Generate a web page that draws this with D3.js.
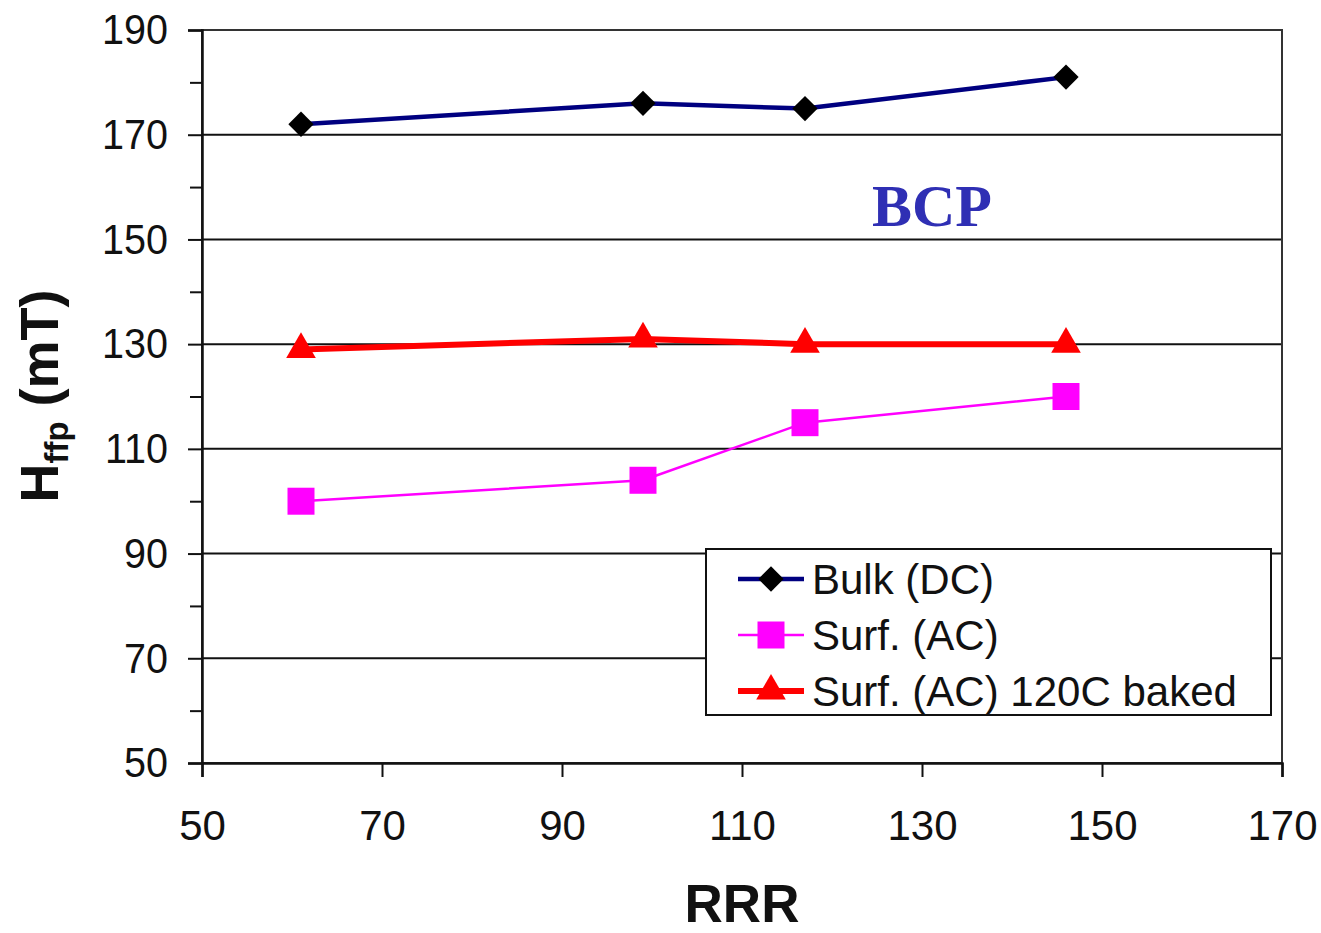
<html>
<head>
<style>
  body { margin: 0; background: #fff; }
</style>
</head>
<body>
<svg id="chart" width="1321" height="933" font-family="Liberation Sans, Arial, sans-serif"></svg>
<script src="https://cdn.jsdelivr.net/npm/d3@7"></script>
<script>
// data
const rrr = [61, 99, 117, 146]
const bulkDC = [172, 176, 175, 181]
const surfAC = [100, 104, 115, 120]
const surfBaked = [129, 131, 130, 130]
const xTicks = [50, 70, 90, 110, 130, 150, 170]
const yTicks = [50, 70, 90, 110, 130, 150, 170, 190]
const yMinor = [60, 80, 100, 120, 140, 160, 180]

const series = [
    { name: "Bulk (DC)", values: bulkDC, color: "#000080", width: 4.5, marker: "diamond", fill: "#000" },
    { name: "Surf. (AC)", values: surfAC, color: "#ff00ff", width: 2.5, marker: "square", fill: "#ff00ff" },
    { name: "Surf. (AC) 120C baked", values: surfBaked, color: "#ff0000", width: 6, marker: "triangle", fill: "#ff0000" }
]

let svg = d3.select("#chart")
let plotLeft = 202, plotRight = 1282, plotTop = 30, plotBottom = 763

let x = d3.scaleLinear().domain([50, 170]).range([plotLeft, plotRight])
let y = d3.scaleLinear().domain([50, 190]).range([plotBottom, plotTop])

// gridlines
svg.append("g")
    .selectAll("line")
    .data(yTicks)
    .enter()
    .append("line")
    .attr("x1", plotLeft).attr("x2", plotRight)
    .attr("y1", d => y(d)).attr("y2", d => y(d))
    .attr("stroke", "#111").attr("stroke-width", 2)

// plot frame
svg.append("rect")
    .attr("x", plotLeft).attr("y", plotTop)
    .attr("width", plotRight - plotLeft).attr("height", plotBottom - plotTop)
    .attr("fill", "none").attr("stroke", "#333").attr("stroke-width", 2)

// y axis
let yAxis = svg.append("g")
    .attr("transform", `translate(${plotLeft},0)`)
    .call(d3.axisLeft(y).tickValues(yTicks).tickSize(14).tickPadding(18).tickFormat(d3.format("d")))
yAxis.select(".domain").attr("stroke", "#111").attr("stroke-width", 2.5)
yAxis.selectAll(".tick line").attr("stroke", "#111").attr("stroke-width", 2)
yAxis.selectAll(".tick text")
    .style("font-size", "43px").style("font-family", "Liberation Sans, Arial, sans-serif")
    .attr("fill", "#111")
    .attr("transform", "scale(0.92,1)")
    .attr("x", -34 / 0.92)

svg.append("g")
    .attr("transform", `translate(${plotLeft},0)`)
    .call(d3.axisLeft(y).tickValues(yMinor).tickSize(12).tickFormat(""))
    .call(g => g.select(".domain").remove())
    .selectAll(".tick line").attr("stroke", "#111").attr("stroke-width", 2)

// x axis
let xAxis = svg.append("g")
    .attr("transform", `translate(0,${plotBottom})`)
    .call(d3.axisBottom(x).tickValues(xTicks).tickSize(14).tickPadding(0).tickFormat(d3.format("d")))
xAxis.select(".domain").attr("stroke", "#111").attr("stroke-width", 2.5)
xAxis.selectAll(".tick line").attr("stroke", "#111").attr("stroke-width", 2)
xAxis.selectAll(".tick text")
    .style("font-size", "42px").style("font-family", "Liberation Sans, Arial, sans-serif")
    .attr("fill", "#111")
    .attr("dy", null).attr("y", 77)

// lines and markers
function markerPath(type) {
    if (type === "diamond") return d3.symbol(d3.symbolSquare, 320)()
    if (type === "square") return d3.symbol(d3.symbolSquare, 729)()
    return d3.symbol(d3.symbolTriangle, 380)()
}

let line = d3.line().x(d => x(d[0])).y(d => y(d[1]))

series.forEach(s => {
    let pts = rrr.map((r, i) => [r, s.values[i]])
    svg.append("path")
        .attr("d", line(pts))
        .attr("fill", "none")
        .attr("stroke", s.color)
        .attr("stroke-width", s.width)
        .attr("stroke-linejoin", "round")
    svg.append("g")
        .selectAll("path")
        .data(pts)
        .enter()
        .append("path")
        .attr("d", markerPath(s.marker))
        .attr("transform", d => `translate(${x(d[0])},${y(d[1])})` + (s.marker === "diamond" ? " rotate(45)" : ""))
        .attr("fill", s.fill)
})

// BCP label
svg.append("text")
    .attr("x", 872).attr("y", 226)
    .style("font-family", "'Liberation Serif', 'Times New Roman', serif")
    .style("font-weight", "bold").style("font-size", "60px")
    .attr("fill", "#2f2fb4")
    .text("BCP")

// legend
let legend = svg.append("g")
legend.append("rect")
    .attr("x", 706).attr("y", 549).attr("width", 565).attr("height", 166)
    .attr("fill", "#fff").attr("stroke", "#111").attr("stroke-width", 2)

let rows = legend.selectAll("g.row")
    .data(series)
    .enter()
    .append("g")
    .attr("class", "row")
    .attr("transform", (d, i) => `translate(0,${579 + i * 56})`)
rows.append("line")
    .attr("x1", 738).attr("x2", 804).attr("y1", 0).attr("y2", 0)
    .attr("stroke", d => d.color).attr("stroke-width", d => d.width)
rows.append("path")
    .attr("d", d => markerPath(d.marker))
    .attr("transform", d => "translate(771,0)" + (d.marker === "diamond" ? " rotate(45)" : ""))
    .attr("fill", d => d.fill)
rows.append("text")
    .attr("x", 812).attr("y", 15)
    .style("font-size", "42px")
    .attr("fill", "#111")
    .text(d => d.name)

// axis titles
svg.append("text")
    .attr("x", 742).attr("y", 922)
    .attr("text-anchor", "middle")
    .style("font-weight", "bold").style("font-size", "53px")
    .attr("fill", "#111")
    .text("RRR")

let yTitle = svg.append("text")
    .attr("transform", "translate(58,396) rotate(-90)")
    .attr("text-anchor", "middle")
    .style("font-weight", "bold").style("font-size", "54px")
    .attr("fill", "#111")
yTitle.append("tspan").text("H")
yTitle.append("tspan").style("font-size", "33px").attr("dy", 10).text("ffp")
yTitle.append("tspan").attr("dy", -10).text(" (mT)")
</script>
</body>
</html>
